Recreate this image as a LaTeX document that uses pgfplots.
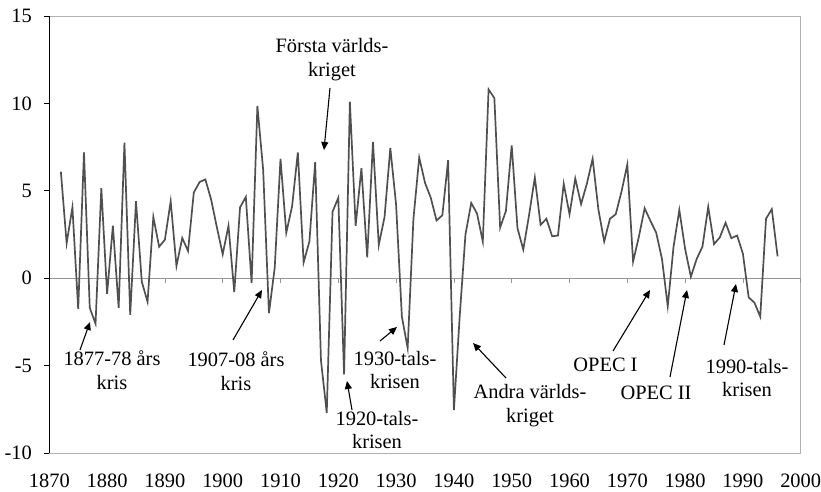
\documentclass[border=0pt]{standalone}
\usepackage{fontspec}
\setmainfont{Liberation Serif}
\usepackage{pgfplots}
\usepackage{pgfplotstable}
\pgfplotsset{compat=1.18}
\usetikzlibrary{arrows.meta}
\definecolor{serie}{RGB}{80,80,80}
\definecolor{ram}{RGB}{178,178,178}
\definecolor{noll}{RGB}{150,150,150}
% px -> picture coordinates (reference image 821x492, axis box lower left at px 49.3/453)
\newcommand\pp[2]{({(#1-49.3)*1bp},{(453-#2)*1bp})}

% BNP-tillvaxt, procent per ar
\pgfplotstableread{
ar  v
1872 6.1
1873 2.0
1874 4.05
1875 -1.76
1876 7.2
1877 -1.7
1878 -2.6
1879 5.15
1880 -0.9
1881 3.0
1882 -1.7
1883 7.75
1884 -2.1
1885 4.4
1886 -0.2
1887 -1.35
1888 3.5
1889 1.8
1890 2.2
1891 4.4
1892 0.7
1893 2.3
1894 1.56
1895 4.9
1896 5.5
1897 5.65
1898 4.5
1899 2.9
1900 1.37
1901 3.0
1902 -0.8
1903 4.05
1904 4.65
1905 -0.27
1906 9.85
1907 6.2
1908 -2.0
1909 0.6
1910 6.83
1911 2.6
1912 4.1
1913 7.2
1914 0.9
1915 2.1
1916 6.64
1917 -4.7
1918 -7.7
1919 3.8
1920 4.6
1921 -5.5
1922 10.1
1923 3.0
1924 6.3
1925 1.2
1926 7.8
1927 1.9
1928 3.5
1929 7.45
1930 4.2
1931 -2.2
1932 -4.0
1933 3.4
1934 6.9
1935 5.46
1936 4.6
1937 3.3
1938 3.6
1939 6.75
1940 -7.55
1941 -2.2
1942 2.5
1943 4.3
1944 3.7
1945 2.1
1946 10.8
1947 10.3
1948 2.9
1949 3.85
1950 7.6
1951 2.86
1952 1.64
1953 3.6
1954 5.76
1955 3.05
1956 3.4
1957 2.4
1958 2.44
1959 5.4
1960 3.66
1961 5.7
1962 4.24
1963 5.4
1964 6.83
1965 3.93
1966 2.1
1967 3.4
1968 3.66
1969 4.96
1970 6.5
1971 0.95
1972 2.37
1973 4.0
1974 3.28
1975 2.6
1976 1.1
1977 -1.6
1978 1.8
1979 3.9
1980 1.68
1981 0.08
1982 1.1
1983 1.8
1984 4.08
1985 1.95
1986 2.33
1987 3.17
1988 2.29
1989 2.44
1990 1.4
1991 -1.1
1992 -1.4
1993 -2.2
1994 3.4
1995 3.95
1996 1.25
}\bnp

\begin{document}
\begin{tikzpicture}[font=\fontsize{20.5}{24}\selectfont]
\begin{axis}[
  at={(0,0)}, anchor=south west,
  scale only axis, width=751.4bp, height=437bp,
  xmin=1870, xmax=2000, ymin=-10, ymax=15,
  xtick={1870,1880,...,2000}, ytick={-10,-5,...,15},
  axis line style={draw=ram, line width=0.8bp},
  x tick style={draw=none},
  y tick style={draw=black, line width=0.7bp},
  ytick pos=left, tick align=outside, major tick length=5bp,
  xticklabel style={yshift=-12bp},
  yticklabel style={xshift=-9bp},
  /pgf/number format/assume math mode=true,
  /pgf/number format/set thousands separator={},
  clip=false,
]
\draw[noll, line width=0.8bp] (axis cs:1870,0) -- (axis cs:2000,0);
\pgfplotsinvokeforeach{1880,1890,1900,1910,1920,1930,1940,1950,1960,1970,1980,1990,2000}{
  \draw[noll, line width=0.7bp] (axis cs:#1,0) -- ++(0pt,-4.5bp);
}
\draw[black, line width=0.8bp] (axis cs:1870,-10) -- (axis cs:1870,15);
\addplot[serie, line width=1.7bp, mark=none] table[x=ar, y=v] {\bnp};
\end{axis}

% annotations
\begin{scope}[line width=1.1bp, -{Triangle[length=8bp,width=7bp]}]
\draw \pp{80}{350} -- \pp{90}{322};
\draw \pp{233}{340} -- \pp{262}{290};
\draw \pp{330}{88} -- \pp{324}{150};
\draw \pp{352}{410} -- \pp{347}{381};
\draw \pp{380}{341} -- \pp{397}{327};
\draw \pp{506}{378} -- \pp{473}{343};
\draw \pp{613}{351} -- \pp{650}{290};
\draw \pp{670}{377} -- \pp{687}{290};
\draw \pp{724}{345} -- \pp{736}{284};
\end{scope}
\begin{scope}[every node/.style={align=center, inner sep=0pt}]
\node at \pp{112}{370.5} {1877-78 års\\kris};
\node at \pp{236}{371} {1907-08 års\\kris};
\node at \pp{332}{59.5} {Första världs-\\kriget};
\node at \pp{377}{430} {1920-tals-\\krisen};
\node at \pp{395}{370} {1930-tals-\\krisen};
\node at \pp{530}{405.5} {Andra världs-\\kriget};
\node at \pp{605.5}{365} {OPEC I};
\node at \pp{656}{393} {OPEC II};
\node at \pp{747}{378} {1990-tals-\\krisen};
\end{scope}

\pgfresetboundingbox
\useasboundingbox (-49.3bp,-39bp) rectangle (771.7bp,453bp);
\end{tikzpicture}
\end{document}
